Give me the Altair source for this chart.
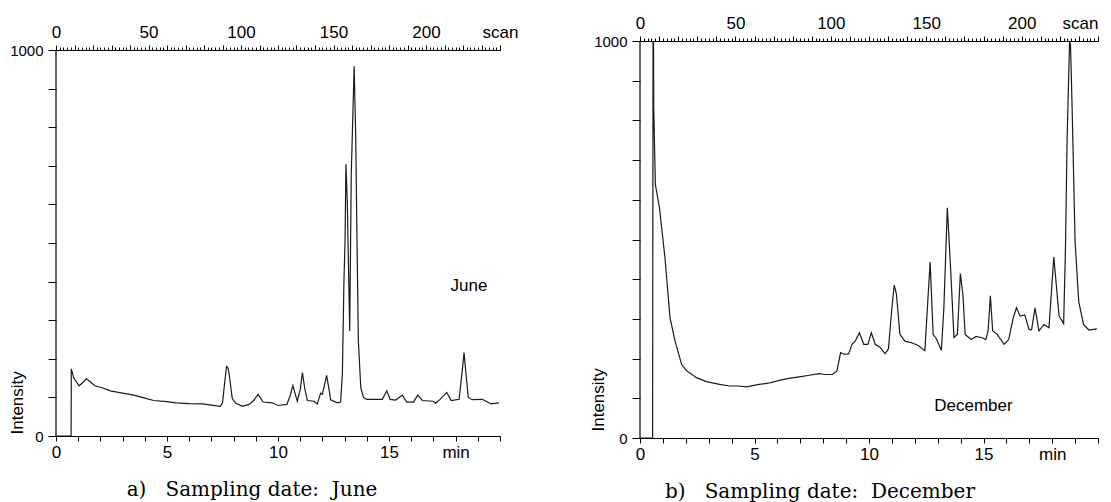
import altair as alt
import pandas as pd

# ---- data (time in min, intensity 0-1000) ----
june_min = [0, 0.68, 0.69, 0.8, 1.04, 1.2, 1.37, 1.55, 1.75, 2.08, 2.45, 3.0, 3.5, 4.0, 4.4,
            5.0, 5.4, 6.0, 6.6, 7.0, 7.4, 7.5, 7.62, 7.68, 7.74, 7.8, 7.94, 8.1, 8.4, 8.7,
            8.9, 9.1, 9.25, 9.33, 9.74, 10.0, 10.4, 10.55, 10.67, 10.78, 10.87, 11.0, 11.1,
            11.2, 11.32, 11.62, 11.77, 11.92, 12.0, 12.19, 12.3, 12.37, 12.67, 12.82, 12.9,
            12.97, 13.02, 13.06, 13.12, 13.23, 13.3, 13.38, 13.43, 13.5, 13.56, 13.62, 13.73,
            13.85, 14.0, 14.7, 14.9, 15.05, 15.3, 15.6, 15.8, 16.1, 16.3, 16.5, 17.0, 17.1,
            17.3, 17.6, 17.8, 18.16, 18.3, 18.38, 18.47, 18.57, 18.75, 19.2, 19.6, 19.95]
june_int = [0, 0, 174, 150, 130, 138, 148, 140, 130, 125, 117, 111, 106, 98, 92,
            89, 86, 84, 83, 80, 77, 86, 150, 180, 178, 160, 97, 85, 77, 82,
            92, 108, 95, 88, 86, 79, 82, 105, 131, 108, 90, 120, 164,
            125, 92, 90, 83, 111, 108, 157, 120, 94, 86, 88, 160,
            400, 505, 704, 609, 272, 678, 850, 958, 780, 500, 246, 125,
            100, 95, 95, 117, 95, 93, 106, 88, 88, 106, 92, 90, 85,
            95, 113, 92, 95, 170, 216, 160, 100, 94, 95, 83, 86]

dec_min = [0, 0.55, 0.57, 0.59, 0.6, 0.67, 0.85, 1.09, 1.31, 1.53, 1.82, 2.04, 2.47, 2.9,
           3.48, 3.91, 4.3, 4.64, 5.2, 5.6, 6.08, 6.5, 6.95, 7.4, 7.82, 8.1, 8.4, 8.6, 8.76,
           8.9, 9.11, 9.26, 9.4, 9.58, 9.77, 9.95, 10.1, 10.27, 10.49, 10.7, 10.85, 11.0,
           11.1, 11.2, 11.35, 11.57, 11.86, 12.15, 12.44, 12.55, 12.67, 12.8, 12.94, 13.16,
           13.27, 13.42, 13.57, 13.71, 13.86, 13.99, 14.1, 14.2, 14.46, 14.68, 14.97, 15.1,
           15.2, 15.3, 15.4, 15.6, 15.9, 16.1, 16.3, 16.44, 16.6, 16.8, 16.99, 17.1, 17.25,
           17.42, 17.64, 17.86, 18.07, 18.3, 18.5, 18.58, 18.65, 18.72, 18.76, 18.8, 18.87,
           19.0, 19.16, 19.37, 19.6, 19.95]
dec_int = [0, 0, 1000, 1000, 832, 639, 580, 454, 303, 244, 185, 169, 152, 142,
           135, 131, 131, 129, 135, 138, 145, 150, 154, 158, 162, 160, 160, 169, 215,
           211, 212, 236, 244, 265, 236, 236, 265, 236, 228, 212, 225, 328,
           385, 362, 261, 244, 240, 233, 220, 328, 443, 261, 250, 221,
           328, 580, 420, 253, 261, 414, 362, 261, 248, 256, 252, 248,
           270, 358, 270, 261, 236, 248, 303, 328, 307, 310, 273, 273, 328,
           270, 286, 278, 456, 307, 288, 480, 748, 914, 1000, 990, 832,
           493, 343, 286, 272, 275]

time_ticks = list(range(0, 21))          # min
scan_ticks = list(range(0, 241, 2))      # scan numbers
intensity_ticks = list(range(0, 1001, 100))
scan_range = [0, 240]
time_range = [0, 20]
intensity_range = [0, 1000]

SANS = "Liberation Sans"
SERIF = "DejaVu Serif"


def panel(mins, ints, width, height, top_gap, label, label_pos, caption, caption_dx,
          caption_off, title_x, title_dy, scan_align):
    """top_gap: pixels between the top of the panel and the 1000 line (ruler)."""
    df = pd.DataFrame({"min": mins, "intensity": ints})
    plot_h = height - top_gap
    y_max = intensity_range[1] * height / plot_h
    x_scale = alt.Scale(domain=time_range, nice=False, zero=False)
    y_scale = alt.Scale(domain=[intensity_range[0], y_max], nice=False)

    y_axis = alt.Axis(
        values=intensity_ticks,
        labelExpr="(datum.value == 0 || datum.value == 1000) ? '' + datum.value : ''",
        labelOverlap=False,
        domain=False,
        tickSize=8, tickColor="black", tickWidth=1,
        labelFont=SANS, labelFontSize=15, labelColor="black", labelPadding=5,
        grid=False,
        title="Intensity", titleFont=SANS, titleFontSize=17, titleFontWeight="normal",
        titleColor="black", titleAngle=270, titleAlign="left", titleBaseline="middle",
        titleX=title_x, titleY=height - title_dy,
    )

    line = alt.Chart(df).mark_line(color="#1a1a1a", strokeWidth=1.2, clip=True).encode(
        x=alt.X(
            "min:Q",
            scale=x_scale,
            axis=alt.Axis(
                orient="bottom", values=time_ticks,
                labelExpr="datum.value == 18 ? 'min' : ((datum.value % 5 == 0 && datum.value < 20) ? '' + datum.value : '')",
                labelOverlap=False, labelFlush=False,
                tickSize=5, tickColor="black", tickWidth=1,
                domainColor="black", domainWidth=1.2,
                labelFont=SANS, labelFontSize=17, labelColor="black", labelPadding=3,
                grid=False, title=None,
            ),
        ),
        y=alt.Y("intensity:Q", scale=y_scale, axis=y_axis),
        order=alt.Order("min:Q"),
    )

    # vertical intensity axis line, from 0 up to the 1000 ruler
    adf = pd.DataFrame({"min": [time_range[0]], "y0": [intensity_range[0]],
                        "y1": [intensity_range[1]]})
    axis_line = alt.Chart(adf).mark_rule(color="black", strokeWidth=1.2).encode(
        x=alt.X("min:Q", scale=x_scale, axis=None),
        y=alt.Y("y0:Q", scale=y_scale, axis=y_axis),
        y2="y1:Q",
    )

    tdf = pd.DataFrame({"min": [label_pos[0]], "intensity": [label_pos[1]], "text": [label]})
    text = alt.Chart(tdf).mark_text(font=SANS, fontSize=17, color="black").encode(
        x=alt.X("min:Q", scale=x_scale, axis=None),
        y=alt.Y("intensity:Q", scale=y_scale, axis=y_axis),
        text="text:N",
    )

    top_axis = dict(
        orient="top", values=scan_ticks, offset=-top_gap,
        labelExpr="datum.value % 50 == 0 ? '' + datum.value : (datum.value == 240 ? 'scan' : '')",
        labelOverlap=False, labelFlush=False,
        tickSize={"condition": {"test": "datum.value % 10 == 0", "value": 5}, "value": 3},
        tickColor="black", tickWidth=1,
        domainColor="black", domainWidth=1.2,
        labelFont=SANS, labelFontSize=17, labelColor="black", labelPadding=4,
        grid=False, title=None,
    )
    if scan_align == "right":
        top_axis["labelAlign"] = {"condition": {"test": "datum.value == 240", "value": "right"},
                                  "value": "center"}

    sdf = pd.DataFrame({"scan": scan_range, "intensity": [0, 0]})
    ruler = alt.Chart(sdf).mark_line(strokeOpacity=0).encode(
        x=alt.X("scan:Q", scale=alt.Scale(domain=scan_range, nice=False, zero=False),
                axis=alt.Axis(**top_axis)),
        y=alt.Y("intensity:Q", scale=y_scale, axis=y_axis),
    )

    return alt.layer(line, axis_line, text, ruler).resolve_scale(x="independent").properties(
        width=width, height=height,
        title=alt.TitleParams(text=caption, orient="bottom", font=SERIF, fontSize=20,
                              fontWeight="normal", color="black", anchor="middle",
                              offset=caption_off, dx=caption_dx),
    )


left = panel(june_min, june_int, 444, 395, 9, "June", [18.6, 389],
             "a)\u00a0\u00a0\u00a0Sampling date:\u00a0\u00a0June", -26, 20, -39, 2, "center")
right = panel(dec_min, dec_int, 458, 397, 0, "December", [14.56, 81],
              "b)\u00a0\u00a0\u00a0Sampling date:\u00a0\u00a0December", -49, 20, -42, 7, "right")

chart = alt.hconcat(left, right, spacing=71).properties(
    padding={"left": 0, "top": 6, "right": 0, "bottom": 0},
    background="white",
).configure_view(stroke=None)

chart.save("out.html", embed_options={"renderer": "svg", "actions": False})
